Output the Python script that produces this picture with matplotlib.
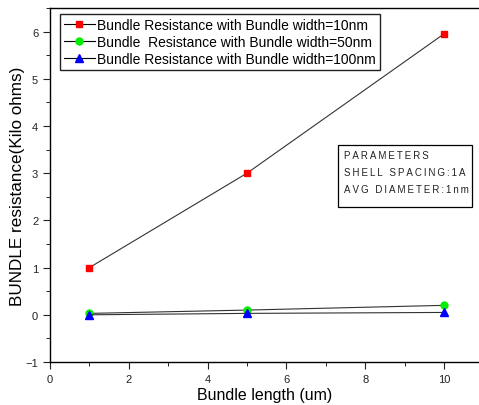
import matplotlib.pyplot as plt
from matplotlib.ticker import MultipleLocator
from matplotlib.patches import Rectangle

plt.rcParams['font.family'] = ['Liberation Sans', 'DejaVu Sans']

# bundle length (um)
length = [1, 5, 10]
# bundle resistance (kilo ohms)
r_10nm = [1.0, 3.0, 5.95]
r_50nm = [0.03, 0.1, 0.2]
r_100nm = [0.0, 0.03, 0.05]

labels = ['Bundle Resistance with Bundle width=10nm',
          'Bundle  Resistance with Bundle width=50nm',
          'Bundle Resistance with Bundle width=100nm']
params = ['PARAMETERS', 'SHELL SPACING:1A', 'AVG DIAMETER:1nm']

fig = plt.figure(figsize=(4.79, 4.06), dpi=100)
ax = fig.add_axes([0.1044, 0.1059, 0.8956, 0.872])

ax.plot(length, r_10nm, color='#333333', lw=0.8, marker='s', ms=5,
        mfc='red', mec='red', label=labels[0])
ax.plot(length, r_50nm, color='#333333', lw=0.8, marker='o', ms=5,
        mfc='#00ee00', mec='#00ee00', label=labels[1])
ax.plot(length, r_100nm, color='#333333', lw=0.8, marker='^', ms=6,
        mfc='blue', mec='blue', label=labels[2])

ax.set_xlim(0, 10.89)
ax.set_ylim(-1, 6.5)
ax.xaxis.set_major_locator(MultipleLocator(2))
ax.xaxis.set_minor_locator(MultipleLocator(1))
ax.yaxis.set_major_locator(MultipleLocator(1))
ax.yaxis.set_minor_locator(MultipleLocator(0.5))
ax.tick_params(which='major', direction='out', length=5, labelsize=8, colors='#222222')
ax.tick_params(which='minor', direction='out', length=3)
ax.spines['right'].set_visible(False)
for s in ['left', 'bottom', 'top']:
    ax.spines[s].set_linewidth(1.0)

ax.set_xlabel('Bundle length (um)', fontsize=11.5, labelpad=2)
ax.set_ylabel('BUNDLE resistance(Kilo ohms)', fontsize=12.3, labelpad=0)

leg = ax.legend(loc='upper left', bbox_to_anchor=(0.0233, 0.983), fontsize=10,
                numpoints=1, handlelength=2.2, handletextpad=0.15,
                labelspacing=0.2, borderpad=0.3, borderaxespad=0,
                fancybox=False, edgecolor='#222222', framealpha=1)
leg.get_frame().set_linewidth(1.0)
for h in leg.get_lines():
    h.set_color('black')

# parameters box
ax.add_patch(Rectangle((0.671, 0.438), 0.313, 0.175, transform=ax.transAxes,
                       fc='white', ec='black', lw=0.9, zorder=3))
for i, t in enumerate(params):
    ax.text(0.685, 0.585 - i * 0.048, '\u2009'.join(t), transform=ax.transAxes,
            fontsize=7, va='center', ha='left', color='#222222', zorder=4)

fig.savefig('out.png', dpi=100)
